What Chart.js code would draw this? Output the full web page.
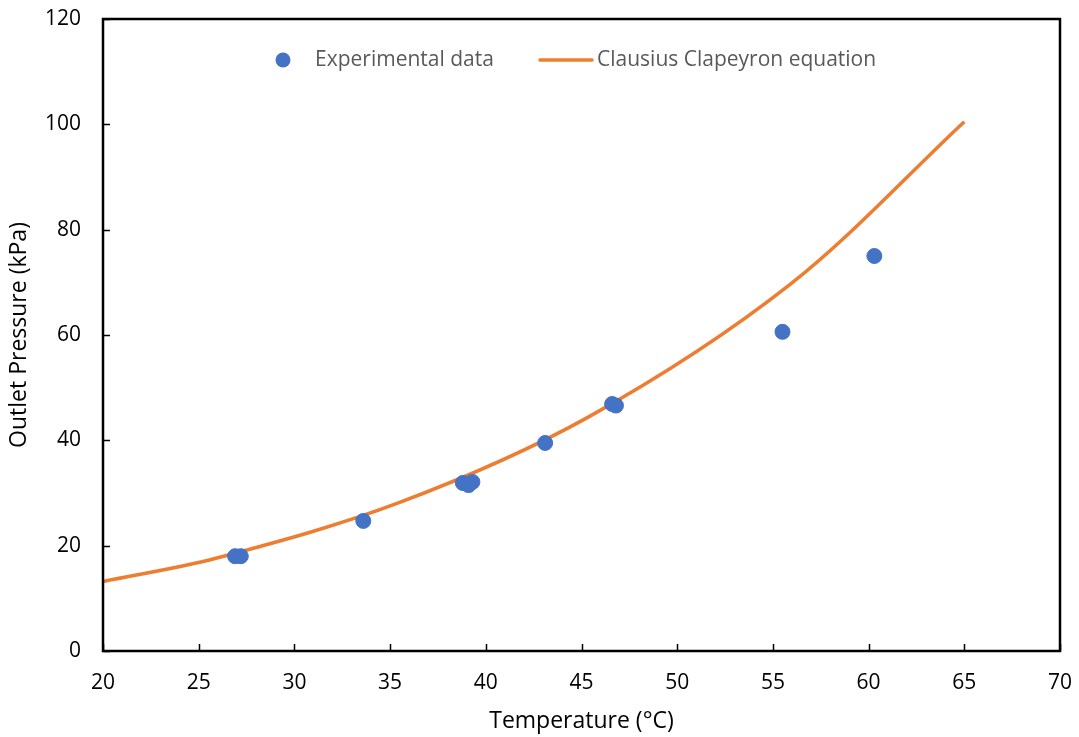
<!DOCTYPE html>
<html>
<head>
<meta charset="utf-8">
<script src="https://cdn.jsdelivr.net/npm/chart.js@4/dist/chart.umd.min.js"></script>
<style>
  html, body { margin: 0; padding: 0; background: #fff; }
  #wrap { width: 1079px; height: 737px; }
</style>
</head>
<body>
<div id="wrap"><canvas id="ccChart" width="1079" height="737"></canvas></div>
<script>
// experimental points
const expTemp = [26.9, 27.2, 33.6, 38.8, 39.3, 39.1, 43.1, 46.6, 46.8, 55.5, 60.3];
const expPressure = [18.0, 18.0, 24.7, 31.9, 32.1, 31.5, 39.5, 46.9, 46.6, 60.6, 75.0];

// Clausius Clapeyron curve
const curveTemp = [20, 25.9, 35.5, 45.4, 55.9, 65];
const curvePressure = [13.2, 17.6, 28.2, 44.5, 69.6, 100.5];

const xTicks = [20, 25, 30, 35, 40, 45, 50, 55, 60, 65, 70];
const yTicks = [0, 20, 40, 60, 80, 100, 120];

const FONT = 'Open Sans';

// frame + inner tick marks
const framePlugin = {
    id: 'frame',
    afterDraw(chart) {
        const { ctx, chartArea: a, scales } = chart;
        ctx.save();
        ctx.strokeStyle = '#000';
        ctx.lineWidth = 1.5;
        ctx.beginPath();
        xTicks.forEach(v => {
            const px = Math.round(scales.x.getPixelForValue(v)) + 0.5;
            ctx.moveTo(px, a.bottom);
            ctx.lineTo(px, a.bottom - 7);
        });
        yTicks.forEach(v => {
            const py = Math.round(scales.y.getPixelForValue(v)) + 0.5;
            ctx.moveTo(a.left, py);
            ctx.lineTo(a.left + 7, py);
        });
        ctx.stroke();
        ctx.lineWidth = 2.5;
        ctx.strokeRect(a.left, a.top, a.right - a.left, a.bottom - a.top);
        ctx.restore();
    }
};

// legend drawn inside the plot, like the original
const legendPlugin = {
    id: 'innerLegend',
    afterDraw(chart) {
        const { ctx } = chart;
        const ds = chart.data.datasets;
        const y = 60;
        ctx.save();
        ctx.font = '21px "' + FONT + '"';
        ctx.textBaseline = 'middle';
        // dataset 0: marker
        ctx.beginPath();
        ctx.arc(283, y, 7.5, 0, Math.PI * 2);
        ctx.fillStyle = ds[0].backgroundColor;
        ctx.fill();
        ctx.fillStyle = '#595959';
        ctx.fillText(ds[0].label, 315, y);
        // dataset 1: line
        ctx.beginPath();
        ctx.moveTo(540, y);
        ctx.lineTo(592, y);
        ctx.strokeStyle = ds[1].borderColor;
        ctx.lineWidth = 3.5;
        ctx.lineCap = 'round';
        ctx.stroke();
        ctx.fillText(ds[1].label, 597, y);
        ctx.restore();
    }
};

const ctx = document.getElementById('ccChart').getContext('2d');
new Chart(ctx, {
    type: 'scatter',
    data: {
        datasets: [
            {
                label: 'Experimental data',
                data: expTemp.map((t, i) => ({ x: t, y: expPressure[i] })),
                backgroundColor: '#4472C4',
                borderColor: '#4472C4',
                pointRadius: 7.5,
                pointHoverRadius: 7.5,
                order: 0
            },
            {
                label: 'Clausius Clapeyron equation',
                data: curveTemp.map((t, i) => ({ x: t, y: curvePressure[i] })),
                showLine: true,
                borderColor: '#ED7D31',
                backgroundColor: '#ED7D31',
                borderWidth: 3.5,
                pointRadius: 0,
                tension: 0.33,
                order: 1
            }
        ]
    },
    options: {
        responsive: false,
        animation: false,
        layout: { padding: { top: 19, right: 19, left: 0, bottom: 0 } },
        scales: {
            x: {
                type: 'linear',
                min: 20,
                max: 70,
                afterBuildTicks: s => { s.ticks = xTicks.map(v => ({ value: v })); },
                afterFit: s => {
                    s.height = 86;
                    s.paddingLeft = 0; s.paddingRight = 0;
                },
                grid: { display: false, drawTicks: false },
                border: { display: false },
                ticks: { color: '#000', padding: 19, font: { family: FONT, size: 21 } },
                title: {
                    display: true,
                    text: 'Temperature (°C)',
                    color: '#000',
                    padding: { top: 0, bottom: 2 },
                    font: { family: FONT, size: 23 }
                }
            },
            y: {
                min: 0,
                max: 120,
                afterBuildTicks: s => { s.ticks = yTicks.map(v => ({ value: v })); },
                afterFit: s => {
                    s.width = 103;
                    s.paddingTop = 0; s.paddingBottom = 0;
                },
                grid: { display: false, drawTicks: false },
                border: { display: false },
                ticks: { color: '#000', padding: 22, font: { family: FONT, size: 21 } },
                title: {
                    display: true,
                    text: 'Outlet Pressure (kPa)',
                    color: '#000',
                    padding: { top: 6, bottom: 0 },
                    font: { family: FONT, size: 23 }
                }
            }
        },
        plugins: {
            legend: { display: false },
            tooltip: { enabled: false }
        }
    },
    plugins: [framePlugin, legendPlugin]
});
</script>
</body>
</html>
